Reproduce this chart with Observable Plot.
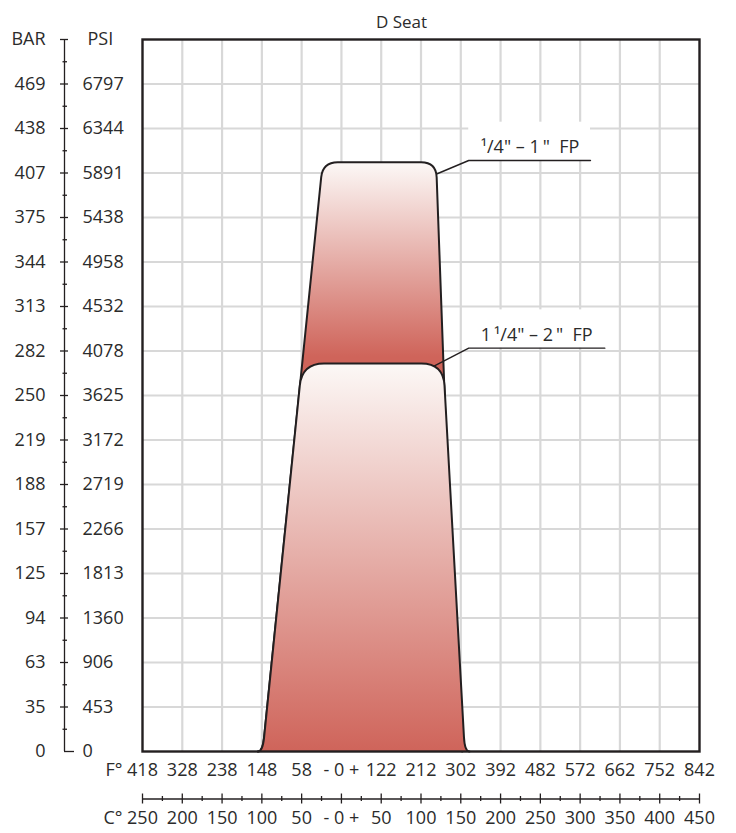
<!DOCTYPE html>
<html>
<head>
<meta charset="utf-8">
<script src="https://cdn.jsdelivr.net/npm/d3@7"></script>
<script src="https://cdn.jsdelivr.net/npm/@observablehq/plot@0.6"></script>
<style>
  html, body { margin: 0; padding: 0; background: #fff; }
  #chart svg { display: block; }
</style>
</head>
<body>
<div id="chart"></div>
<script>
// ---------------- data ----------------
const title = "D Seat";

// temperature axis (°C positions) and its two label rows
const cTicks = [-250, -200, -150, -100, -50, 0, 50, 100, 150, 200, 250, 300, 350, 400, 450];
const fLabels = ["418", "328", "238", "148", "58", "- 0 +", "122", "212", "302", "392", "482", "572", "662", "752", "842"];
const cLabels = ["250", "200", "150", "100", "50", "- 0 +", "50", "100", "150", "200", "250", "300", "350", "400", "450"];

// pressure axis: rows of the grid (PSI, linear) and their BAR / PSI labels
const psiMax = 7250;
const barLabels = ["0", "35", "63", "94", "125", "157", "188", "219", "250", "282", "313", "344", "375", "407", "438", "469"];
const psiLabels = ["0", "453", "906", "1360", "1813", "2266", "2719", "3172", "3625", "4078", "4532", "4958", "5438", "5891", "6344", "6797"];

// rating envelopes (°C, PSI)
const smallC   = [-105, -99, -23.5, 119, 146, 152];
const smallPsi = [0, 0, 6000, 6000, 0, 0];
const bigC     = [-105, -99, -49.5, 128, 155, 161];
const bigPsi   = [0, 0, 3950, 3950, 0, 0];

// callouts
const calloutText = ["\u00b9/4\" \u2013 1\u2009\"\u00a0\u00a0FP", "1\u2009\u00b9/4\" \u2013 2\u2009\"\u00a0\u00a0FP"];
const leaderC   = [[120.4, 160, 313], [116.3, 160, 331]];
const leaderPsi = [[5883, 6018, 6018], [3925, 4107, 4107]];

// ---------------- helpers ----------------
const ink = "#231f20";
const gridColor = "#d8d8d8";
const rows = psiLabels.length;                            // 16 grid rows
const levelPsi = d3.range(rows + 1).map(i => i * psiMax / rows);
const halfPsi = d3.range(rows).map(i => (i + 0.5) * psiMax / rows);
const halfC = cTicks.slice(0, -1).map((d, i) => (d + cTicks[i + 1]) / 2);
const cMin = cTicks[0], cMax = cTicks[cTicks.length - 1];

const toRows = (cs, ps) => cs.map((c, i) => ({c, p: ps[i]}));
const leaders = leaderC.flatMap((cs, k) => cs.map((c, i) => ({k, c, p: leaderPsi[k][i]})));
const boxes = leaderC.map((cs, k) => ({c1: cs[1], c2: cs[2], p1: leaderPsi[k][1], p2: leaderPsi[k][1] + 390}));
const callouts = leaderC.map((cs, k) => ({c: cs[1], p: leaderPsi[k][1], text: calloutText[k]}));

// curve with rounded corners (quadratic fillets)
function roundedCurve(rTop, rBottom) {
  return (context) => {
    let pts = [];
    return {
      areaStart() {}, areaEnd() {},
      lineStart() { pts = []; },
      point(x, y) { pts.push([+x, +y]); },
      lineEnd() {
        const n = pts.length;
        if (!n) return;
        context.moveTo(pts[0][0], pts[0][1]);
        for (let i = 1; i < n - 1; i++) {
          const [px, py] = pts[i - 1], [cx, cy] = pts[i], [nx, ny] = pts[i + 1];
          const r = (i === 1 || i === n - 2) ? rBottom : rTop;
          const d1 = Math.hypot(cx - px, cy - py) || 1, d2 = Math.hypot(nx - cx, ny - cy) || 1;
          const t1 = Math.min(r, i === 1 ? d1 : d1 / 2);
          const t2 = Math.min(r, i === n - 2 ? d2 : d2 / 2);
          context.lineTo(cx + (px - cx) * t1 / d1, cy + (py - cy) * t1 / d1);
          context.quadraticCurveTo(cx, cy, cx + (nx - cx) * t2 / d2, cy + (ny - cy) * t2 / d2);
        }
        context.lineTo(pts[n - 1][0], pts[n - 1][1]);
      }
    };
  };
}

const axisDx = -78;   // left BAR/PSI scale offset
const axisDy = 47.5;  // bottom temperature scale offset

const chart = Plot.plot({
  width: 736,
  height: 833,
  marginLeft: 142,
  marginRight: 37,
  marginTop: 39,
  marginBottom: 82,
  style: {fontFamily: "'Open Sans', 'Noto Sans', sans-serif", fontSize: "18px", color: "#2b2b2b", background: "#fff"},
  x: {domain: [cMin, cMax], axis: null},
  y: {domain: [0, psiMax], axis: null},
  marks: [
    // grid
    Plot.ruleX(cTicks.slice(1, -1), {stroke: gridColor, strokeWidth: 2.2}),
    Plot.ruleY(levelPsi.slice(1, -1), {stroke: gridColor, strokeWidth: 2.2}),
    // white label boxes
    Plot.rect(boxes, {x1: "c1", x2: "c2", y1: "p1", y2: "p2", fill: "#fff"}),
    // small seat envelope (behind)
    Plot.line(toRows(smallC, smallPsi), {x: "c", y: "p", curve: roundedCurve(15, 14), fill: "url(#gradSmall)", stroke: ink, strokeWidth: 2}),
    // leaders
    Plot.line(leaders, {x: "c", y: "p", z: "k", stroke: ink, strokeWidth: 1.4}),
    // large seat envelope
    Plot.line(toRows(bigC, bigPsi), {x: "c", y: "p", curve: roundedCurve(22, 14), fill: "url(#gradBig)", stroke: ink, strokeWidth: 2}),
    // frame
    Plot.frame({stroke: ink, strokeWidth: 2.4}),
    // title
    Plot.text([title], {frameAnchor: "top", dx: -19.5, dy: -12, lineAnchor: "bottom", fontSize: 17}),
    // callout labels
    Plot.text(callouts, {x: "c", y: "p", text: "text", textAnchor: "start", lineAnchor: "bottom", dx: 12, dy: -7, fontSize: 18}),
    // left scale
    Plot.ruleX([cMin], {y1: levelPsi[0], y2: levelPsi[rows], dx: axisDx, stroke: ink, strokeWidth: 1.3}),
    Plot.ruleY(levelPsi.slice(1), {x1: cMin, x2: cMin, insetLeft: -4, insetRight: -4, dx: axisDx, stroke: ink, strokeWidth: 1.3}),
    Plot.ruleY(halfPsi, {x1: cMin, x2: cMin, insetLeft: -1.5, insetRight: -3, dx: axisDx, stroke: ink, strokeWidth: 1.3}),
    Plot.ruleY([levelPsi[0]], {x1: cMin, x2: cMin, insetLeft: 0, insetRight: -10, dx: axisDx, stroke: ink, strokeWidth: 1.3}),
    Plot.text(barLabels, {y: (d, i) => levelPsi[i], text: d => d, frameAnchor: "left", dx: -97, textAnchor: "end", fontSize: 18}),
    Plot.text(psiLabels, {y: (d, i) => levelPsi[i], text: d => d, frameAnchor: "left", dx: -60, textAnchor: "start", fontSize: 18}),
    Plot.text(["BAR"], {y: [levelPsi[rows]], frameAnchor: "left", dx: -97, textAnchor: "end", fontSize: 18}),
    Plot.text(["PSI"], {y: [levelPsi[rows]], frameAnchor: "left", dx: -55, textAnchor: "start", fontSize: 18}),
    // bottom scale
    Plot.ruleY([0], {x1: cMin, x2: cMax, dy: axisDy, stroke: ink, strokeWidth: 1.3}),
    Plot.ruleX(cTicks, {y1: 0, y2: 0, insetTop: -5, insetBottom: -5, dy: axisDy, stroke: ink, strokeWidth: 1.3}),
    Plot.ruleX(halfC, {y1: 0, y2: 0, insetTop: -2.5, insetBottom: -2.5, dy: axisDy, stroke: ink, strokeWidth: 1.3}),
    Plot.text(fLabels, {x: (d, i) => cTicks[i], text: d => d, frameAnchor: "bottom", dy: 24, fontSize: 18}),
    Plot.text(cLabels, {x: (d, i) => cTicks[i], text: d => d, frameAnchor: "bottom", dy: 72, fontSize: 18}),
    Plot.text(["F\u00b0"], {frameAnchor: "bottom-left", dx: -20, dy: 24, textAnchor: "end", fontSize: 18}),
    Plot.text(["C\u00b0"], {frameAnchor: "bottom-left", dx: -20, dy: 72, textAnchor: "end", fontSize: 18})
  ]
});

// gradient definitions
const ns = "http://www.w3.org/2000/svg";
const defs = document.createElementNS(ns, "defs");
function addGradient(id, stops) {
  const g = document.createElementNS(ns, "linearGradient");
  g.setAttribute("id", id);
  g.setAttribute("x1", "0"); g.setAttribute("y1", "0");
  g.setAttribute("x2", "0"); g.setAttribute("y2", "1");
  for (const [o, c] of stops) {
    const s = document.createElementNS(ns, "stop");
    s.setAttribute("offset", o);
    s.setAttribute("stop-color", c);
    g.appendChild(s);
  }
  defs.appendChild(g);
}
const light = "#fcf8f6", red = "#cf645a";
addGradient("gradSmall", [[0, light], [0.33, red], [1, red]]);
addGradient("gradBig", [[0, light], [1, red]]);
chart.insertBefore(defs, chart.firstChild);

document.getElementById("chart").appendChild(chart);
</script>
</body>
</html>
